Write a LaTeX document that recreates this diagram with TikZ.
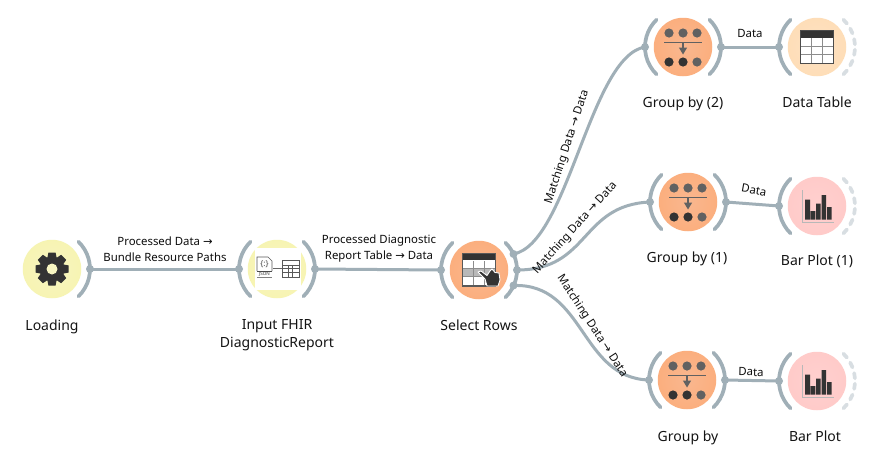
\documentclass[tikz,border=0pt]{standalone}
\usepackage{fontspec}
\setmainfont{Noto Sans}
\newfontfamily\arrowfont{DejaVu Sans}
\usetikzlibrary{calc}
\definecolor{edgec}{HTML}{A0AFB7}
\definecolor{dark}{HTML}{333333}
\definecolor{yellowout}{HTML}{F5F09A}
\definecolor{yellowmid}{HTML}{F6F3AE}
\definecolor{yellowin}{HTML}{F8F6C2}
\definecolor{orangein}{HTML}{F9B78F}
\definecolor{orangemid}{HTML}{FCAC79}
\definecolor{orangeout}{HTML}{FF9A52}
\definecolor{creamin}{HTML}{FDE2C4}
\definecolor{creammid}{HTML}{FEDCB4}
\definecolor{creamout}{HTML}{FFD49C}
\definecolor{pinkin}{HTML}{FFD0CF}
\definecolor{pinkmid}{HTML}{FFC9C7}
\definecolor{pinkout}{HTML}{FFBBB7}
\definecolor{ghostc}{HTML}{D8DEE2}
\pgfdeclareradialshading{wfyellow}{\pgfpoint{0bp}{0bp}}{color(0bp)=(yellowin); color(32bp)=(yellowmid); color(50bp)=(yellowout)}
\pgfdeclareradialshading{wforange}{\pgfpoint{0bp}{0bp}}{color(0bp)=(orangein); color(32bp)=(orangemid); color(50bp)=(orangeout)}
\pgfdeclareradialshading{wfcream}{\pgfpoint{0bp}{0bp}}{color(0bp)=(creamin); color(32bp)=(creammid); color(50bp)=(creamout)}
\pgfdeclareradialshading{wfpink}{\pgfpoint{0bp}{0bp}}{color(0bp)=(pinkin); color(32bp)=(pinkmid); color(50bp)=(pinkout)}
\newcommand{\arrowch}{{\arrowfont\char"2192}}
\tikzset{
  x=1pt,y=-1pt,
  wf/.style={draw=none,circle,minimum size=58.5pt,inner sep=0pt},
  yellowc/.style={wf,shading=wfyellow},
  orangec/.style={wf,shading=wforange},
  creamc/.style={wf,shading=wfcream},
  pinkc/.style={wf,shading=wfpink},
  portarc/.style={draw=edgec,line width=3.7pt,line cap=round},
  ghost/.style={draw=ghostc,line width=3.7pt,line cap=round},
  edgeline/.style={draw=edgec,line width=3pt},
  portdot/.style={circle,fill=edgec,draw=none,minimum size=8pt,inner sep=0pt},
  wfname/.style={font=\fontsize{14}{18.5}\selectfont,align=center,text=black!92,inner sep=0pt},
  wfbase/.style={wfname,anchor=base},
  lbl/.style={font=\fontsize{11.4}{16}\selectfont,align=center,text=black!95,inner sep=0pt},
}
\newcommand{\leftarcat}[1]{\draw[portarc] ($(#1)+(-26.4,-27.3)$) arc[start angle=-134,end angle=-226,radius=38];}
\newcommand{\rightarcat}[1]{\draw[portarc] ($(#1)+(26.4,-27.3)$) arc[start angle=-46,end angle=46,radius=38];}
\newcommand{\ghostarcs}[1]{\foreach \a in {-42,-25,-8,8,25,42}{\draw[ghost] ($(#1)+(\a-4:38)$) arc[start angle=\a-4,end angle=\a+4,radius=38];}}
\newcommand{\groupicon}[1]{\begin{scope}[shift={(#1)}]
  \foreach \xx in {-14,0,14}{\fill[black!62] (\xx,-14) circle (4.6);}
  \draw[black!62,line width=1.7pt] (-19,-4.5) -- (19,-4.5);
  \draw[black!62,line width=1.7pt] (0,-4.5) -- (0,2);
  \fill[black!62] (-4.2,0.5) -- (4.2,0.5) -- (0,7.5) -- cycle;
  \fill[dark] (-14,15) circle (4.6) (0,15) circle (4.6);
  \fill[black!62] (14,15) circle (4.6);
\end{scope}}
\newcommand{\baricon}[1]{\begin{scope}[shift={(#1)}]
  \draw[black!28,line width=1pt] (-15,-16) -- (-15,16) -- (17,16);
  \fill[black!80] (-12,-6.5) rectangle (-7,13.5)
     (-6.3,5) rectangle (-1.7,13.5)
     (-1,-2.3) rectangle (3.7,13.5)
     (4.7,-11) rectangle (9,13.5)
     (10,1) rectangle (14.7,13.5);
\end{scope}}
\newcommand{\tableicon}[1]{\begin{scope}[shift={(#1)}]
  \fill[white] (-16.3,-16.3) rectangle (16.3,16.5);
  \draw[black!45,line width=.8pt] (-5.5,-9) -- (-5.5,16.5) (5.5,-9) -- (5.5,16.5)
     (-16.3,-1) -- (16.3,-1) (-16.3,7.5) -- (16.3,7.5);
  \fill[dark] (-16.3,-16.3) rectangle (16.3,-9.5);
  \draw[black!70,line width=1.2pt] (-16.3,-16.3) rectangle (16.3,16.5);
\end{scope}}
\begin{document}
\begin{tikzpicture}
\useasboundingbox[fill=white] (0,0) rectangle (886,472);

% workflow nodes
\node[yellowc] (load) at (52,269) {};
\node[yellowc] (fhir) at (277,269) {};
\node[orangec] (sel) at (479,270) {};
\node[orangec] (g2) at (683,47) {};
\node[creamc] (dt) at (817,47) {};
\node[orangec] (g1) at (688,202) {};
\node[pinkc] (bp1) at (817,206) {};
\node[orangec] (g0) at (687,380) {};
\node[pinkc] (bp0) at (817,381) {};

% connection ends
\coordinate (loadO) at ($(load)+(38,0)$);
\coordinate (fhirI) at ($(fhir)+(-38,0)$);
\coordinate (fhirO) at ($(fhir)+(38,0)$);
\coordinate (selI) at ($(sel)+(-38,0)$);
\coordinate (selA) at ($(sel)+(34.5,-16)$);
\coordinate (selB) at ($(sel)+(38,0)$);
\coordinate (selC) at ($(sel)+(34.5,15.5)$);
\coordinate (g2I) at ($(g2)+(-38,0)$);
\coordinate (g2O) at ($(g2)+(38,0)$);
\coordinate (dtI) at ($(dt)+(-38,0)$);
\coordinate (g1I) at ($(g1)+(-38,0)$);
\coordinate (g1O) at ($(g1)+(38,0)$);
\coordinate (bp1I) at ($(bp1)+(-38,0)$);
\coordinate (g0I) at ($(g0)+(-38,0)$);
\coordinate (g0O) at ($(g0)+(38,0)$);
\coordinate (bp0I) at ($(bp0)+(-38,0)$);

% connectors
\draw[edgeline] (loadO) -- (fhirI);
\draw[edgeline] (fhirO) -- (selI);
\draw[edgeline] (selA) .. controls (568,244) and (590,56) .. (g2I);
\draw[edgeline] (selB) .. controls (590,270) and (580,205) .. (g1I);
\draw[edgeline] (selC) .. controls (585,283) and (580,378) .. (g0I);
\draw[edgeline] (g2O) -- (dtI);
\draw[edgeline] (g1O) -- (bp1I);
\draw[edgeline] (g0O) -- (bp0I);

% port arcs
\rightarcat{load}
\leftarcat{fhir} \rightarcat{fhir}
\leftarcat{sel} \rightarcat{sel}
\leftarcat{g2} \rightarcat{g2}
\leftarcat{dt} \ghostarcs{dt}
\leftarcat{g1} \rightarcat{g1}
\leftarcat{bp1} \ghostarcs{bp1}
\leftarcat{g0} \rightarcat{g0}
\leftarcat{bp0} \ghostarcs{bp0}

% port dots
\foreach \p in {loadO,fhirI,fhirO,selI,selA,selB,selC,g2I,g2O,dtI,g1I,g1O,bp1I,g0I,g0O,bp0I}
  \node[portdot] at (\p) {};

% gear icon
\begin{scope}[shift={(load)}]
  \foreach \a in {0,45,...,315}{
    \fill[dark,rotate=\a] (-3.6,-16.5) -- (3.6,-16.5) -- (5,-9) -- (-5,-9) -- cycle;
  }
  \fill[dark] (0,0) circle (12.5);
  \fill[yellowin] (0,0) circle (5.5);
\end{scope}

% json to table icon
\begin{scope}[shift={(fhir)}]
  \fill[white] (-22,-21) rectangle (24,21);
  \draw[black!65,line width=.7pt] (-20,2) -- (-20,-12) -- (-9,-12) -- (-5,-8) -- (-5,2);
  \draw[black!70,line width=.9pt] (-20,2) -- (-5,2);
  \draw[black!50,line width=.6pt] (-20,8) -- (-5,8);
  \node[font=\fontsize{4.5}{4.5}\selectfont,text=black!80,inner sep=0pt] (js) at (-12.5,5) {JSON};
  \node[font=\fontsize{8}{8}\selectfont,text=black!75,inner sep=0pt] (br) at (-12.5,-5) {\{:\}};
  \draw[black!60,line width=.7pt] (-4,-1) -- (5,-1);
  \draw[black!65,line width=.7pt] (5,-9) rectangle (22,8)
     (11.3,-4) -- (11.3,8) (15.7,-4) -- (15.7,8)
     (5,-4) -- (22,-4) (5,-1) -- (22,-1) (5,3) -- (22,3);
\end{scope}

% select rows icon
\begin{scope}[shift={(sel)}]
  \fill[white] (-16.3,-16.7) rectangle (16.7,16);
  \fill[black!28] (-16.3,-1.3) rectangle (16.7,6.6);
  \draw[black!45,line width=.8pt] (-5.3,-9) -- (-5.3,16) (5.7,-9) -- (5.7,16)
     (-16.3,-1.3) -- (16.7,-1.3) (-16.3,6.6) -- (16.7,6.6);
  \fill[dark] (-16.3,-16.7) rectangle (16.7,-10.5);
  \draw[black!65,line width=1.1pt] (-16.3,-16.7) rectangle (16.7,16);
  \fill[dark,draw=white,line width=.9pt,line join=round] (-1,2) -- (2,1) -- (8,5.5) -- (11,1) -- (13,-1) -- (16,2.5) -- (20,3)
     -- (21,10) -- (19,16) -- (8,16) -- (6,9) -- cycle;
\end{scope}

% remaining icons
\groupicon{g2} \groupicon{g1} \groupicon{g0}
\tableicon{dt}
\baricon{bp1} \baricon{bp0}

% node names
\node[wfbase] (nLoad) at (52,330) {Loading};
\node[wfname] (nFhir) at (277,335) {Input FHIR\\DiagnosticReport};
\node[wfbase] (nSel) at (479,330) {Select Rows};
\node[wfbase] (nG2) at (683,107) {Group by (2)};
\node[wfbase] (nDt) at (817,107) {Data Table};
\node[wfbase] (nG1) at (687,262) {Group by (1)};
\node[wfbase] (nBp1) at (817,265) {Bar Plot (1)};
\node[wfbase] (nG0) at (688,441) {Group by};
\node[wfbase] (nBp0) at (815,441.5) {Bar Plot};

% connector labels
\node[lbl] (l1) at (165,249) {Processed Data \arrowch\\Bundle Resource Paths};
\node[lbl] (l2) at (379,249) {Processed Diagnostic\\Report Table \arrowch\ Data};
\node[lbl,rotate=72] (l3) at (567,147) {Matching Data \arrowch\ Data};
\node[lbl,rotate=48] (l4) at (575,228) {Matching Data \arrowch\ Data};
\node[lbl,rotate=-57] (l5) at (592,326) {Matching Data \arrowch\ Data};
\node[lbl] (l6) at (750,33) {Data};
\node[lbl,rotate=-10] (l7) at (754,190) {Data};
\node[lbl,rotate=-1] (l8) at (751,372) {Data};
\end{tikzpicture}
\end{document}
